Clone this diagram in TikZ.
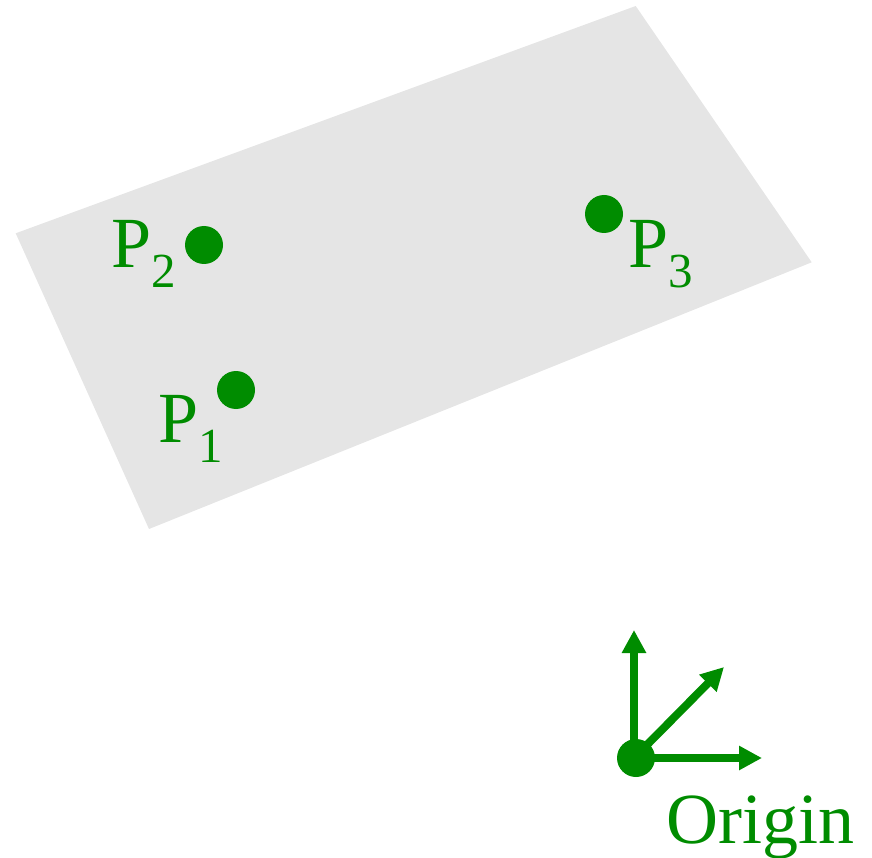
\documentclass[tikz,border=0pt]{standalone}
\usepackage{fontspec}
\setmainfont{Liberation Serif}
\usetikzlibrary{arrows.meta}
\definecolor{pgreen}{RGB}{0,140,0}
\definecolor{plane}{RGB}{229,229,229}
\tikzset{
  pdot/.style={circle,fill=pgreen,inner sep=0pt,minimum size=38pt},
  plabel/.style={anchor=base west,inner sep=0pt,text=pgreen,font=\fontsize{72}{72}\selectfont},
  axis/.style={draw=pgreen,line width=8pt,-{Triangle[length=23pt,width=23pt]}}
}
\newcommand{\psub}[1]{\raisebox{-20pt}{\fontsize{49}{49}\selectfont #1}}
\begin{document}
\begin{tikzpicture}[x=1pt,y=-1pt]
\useasboundingbox (0,0) rectangle (872,858);
\fill[plane] (15.7,233.3) -- (635.7,6) -- (811.7,262.3) -- (149,529) -- cycle;
\node[pdot] (d2) at (204,245) {};
\node[pdot] (d3) at (604,214) {};
\node[pdot] (d1) at (236,390) {};
\node[plabel] (l2) at (111,268) {P\psub{2}};
\node[plabel] (l3) at (628,268) {P\psub{3}};
\node[plabel] (l1) at (158,442) {P\psub{1}};
\coordinate (o) at (634,758);
\coordinate (ty) at (634,630);
\coordinate (tz) at (724,667);
\coordinate (tx) at (762,758);
\draw[axis] (o) -- (ty);
\draw[axis] (o) -- (tz);
\draw[axis] (o) -- (tx);
\node[pdot] (od) at (636,758) {};
\node[plabel] (ol) at (666,843) {Origin};
\end{tikzpicture}
\end{document}
